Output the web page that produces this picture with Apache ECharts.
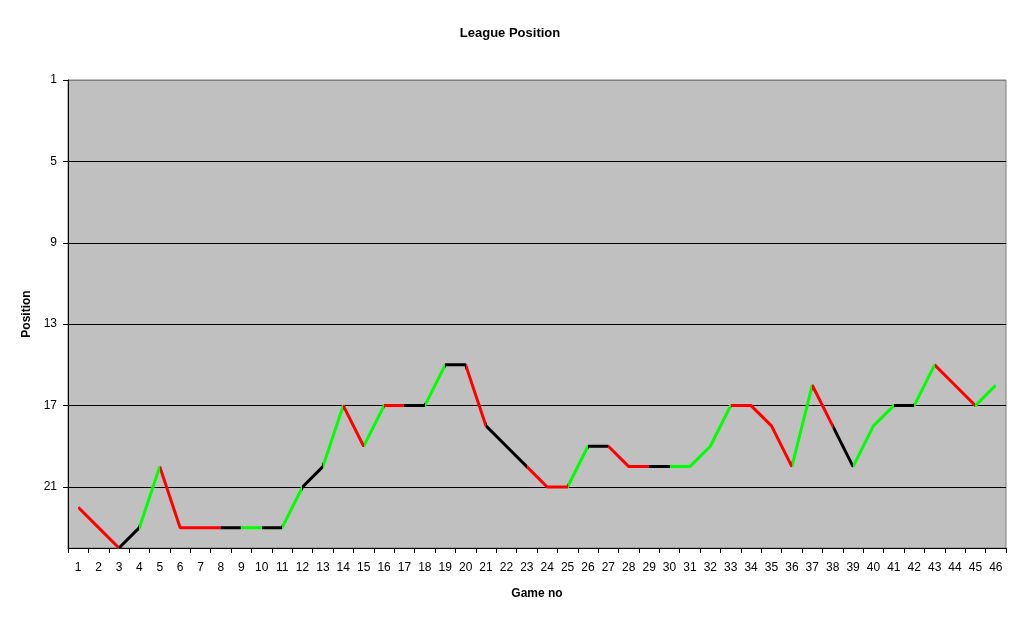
<!DOCTYPE html>
<html>
<head>
<meta charset="utf-8">
<script src="https://cdn.jsdelivr.net/npm/echarts@6/dist/echarts.min.js"></script>
<style>
html,body{margin:0;padding:0;background:#fff;}
#chart{width:1020px;height:620px;}
</style>
</head>
<body>
<div id="chart"></div>
<script>
var games = ['1','2','3','4','5','6','7','8','9','10','11','12','13','14','15','16','17','18','19','20','21','22','23','24','25','26','27','28','29','30','31','32','33','34','35','36','37','38','39','40','41','42','43','44','45','46'];
var positions = [22,23,24,23,20,23,23,23,23,23,23,21,20,17,19,17,17,17,15,15,18,19,20,21,21,19,19,20,20,20,20,19,17,17,18,20,16,18,20,18,17,17,15,16,17,16];
// result of each game (colour of the segment leading into that game); game 1 has no segment
var results = [null,'L','L','D','W','L','L','L','D','W','D','W','D','W','L','W','L','D','W','D','L','D','D','L','L','W','D','L','L','D','W','W','W','L','L','L','W','L','D','W','W','D','W','L','L','W'];
var yTicks = [1,5,9,13,17,21];

var resultColor = {W:'#00FF00', L:'#FF0000', D:'#000000'};
var pieces = [];
for (var i = 1; i < results.length; i++) {
  var p = {lte: i, color: resultColor[results[i]]};
  if (i === 1) p.gte = 0; else p.gt = i - 1;
  pieces.push(p);
}

var chart = echarts.init(document.getElementById('chart'), null, {renderer:'canvas'});
var font = 'Arial, "Liberation Sans", sans-serif';
chart.setOption({
  animation: false,
  backgroundColor: '#ffffff',
  title: {
    text: 'League Position',
    left: 'center',
    top: 22,
    textStyle: {fontFamily: font, fontSize: 13, fontWeight: 'bold', color: '#000'}
  },
  grid: {
    left: 68, right: 14, top: 80, bottom: 72,
    show: true, backgroundColor: '#C0C0C0', borderColor: '#808080', borderWidth: 1
  },
  xAxis: {
    type: 'category',
    data: games,
    boundaryGap: true,
    name: 'Game no',
    nameLocation: 'middle',
    nameGap: 40,
    nameTextStyle: {fontFamily: font, fontSize: 12, fontWeight: 'bold', color: '#000'},
    axisLine: {show: true, lineStyle: {color: '#000', width: 1}},
    axisTick: {show: true, alignWithLabel: false, length: 5, lineStyle: {color: '#000'}},
    axisLabel: {interval: 0, fontFamily: font, fontSize: 12, color: '#000', margin: 14},
    splitLine: {show: false}
  },
  yAxis: {
    type: 'value',
    inverse: true,
    min: 1,
    max: 24,
    interval: 4,
    name: 'Position',
    nameLocation: 'middle',
    nameGap: 34,
    nameRotate: 90,
    nameTextStyle: {fontFamily: font, fontSize: 12, fontWeight: 'bold', color: '#000'},
    axisLine: {show: true, lineStyle: {color: '#000', width: 1}},
    axisTick: {show: true, length: 5, lineStyle: {color: '#000'}},
    axisLabel: {
      fontFamily: font, fontSize: 12, color: '#000', margin: 11,
      showMaxLabel: false,
      formatter: function (v) { return yTicks.indexOf(v) >= 0 ? String(v) : ''; }
    },
    splitLine: {show: true, lineStyle: {color: ['#808080','#000','#000','#000','#000','#000','#000'], width: 1}}
  },
  visualMap: {
    show: false,
    type: 'piecewise',
    dimension: 0,
    seriesIndex: 0,
    pieces: pieces
  },
  series: [{
    type: 'line',
    data: positions,
    showSymbol: false,
    symbol: 'none',
    lineStyle: {width: 3}
  }]
});
</script>
</body>
</html>
